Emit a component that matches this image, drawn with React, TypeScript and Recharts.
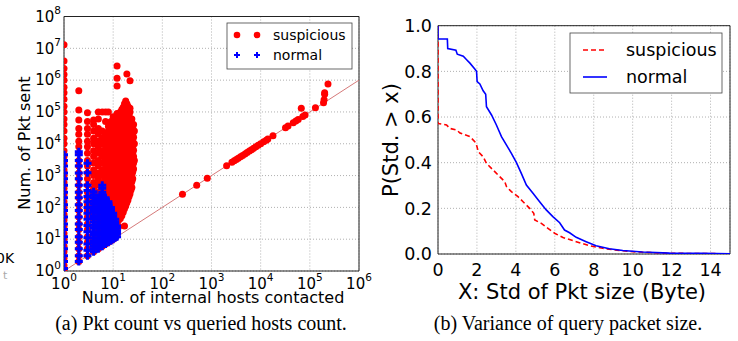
import React from 'react';
import {
  ScatterChart, Scatter, XAxis, YAxis, CartesianGrid, ReferenceLine, ReferenceArea,
  LineChart, Line,
} from 'recharts';

const FONT = '"DejaVu Sans", sans-serif';
const SERIF = '"Liberation Serif", "Times New Roman", serif';

// ---------- (a) Pkt count vs queried hosts count ----------
// [internal hosts contacted, packet counts observed at that host count]
const suspiciousColumns: [number, number[]][] = [
  [1, [1, 1.5, 2.5, 4, 6, 10, 15, 25, 40, 60, 100, 150, 250, 400, 600, 1000, 1500, 2500, 4000, 6000, 10000, 15000, 25000, 40000, 60000, 100000, 150000, 250000, 400000, 600000, 1000000, 1500000, 2300000, 4000000, 13000000]],
  [2, [2, 3, 5, 8, 12, 20, 30, 50, 80, 120, 200, 300, 500, 800, 1200, 2000, 3000, 5000, 8000, 12000, 20000, 30000, 56000, 115000, 460000]],
  [3, [3, 5, 8, 12, 20, 30, 50, 80, 120, 200, 300, 500, 800, 1200, 2000, 3000, 5000, 8000, 12000, 20000, 30000, 50000, 95000]],
  [4, [4, 6, 10, 15, 25, 40, 60, 100, 150, 250, 400, 600, 1000, 1500, 2500, 4000, 6000, 10000, 15000, 25000, 40000, 56000]],
  [5, [5, 8, 12, 20, 30, 50, 80, 120, 200, 300, 500, 800, 1200, 2000, 3000, 5000, 8000, 12000, 20000, 30000, 60000, 100000]],
  [6, [6, 10, 15, 25, 40, 60, 100, 150, 250, 400, 600, 1000, 1500, 2500, 4000, 6000, 10000, 15000, 25000, 100000]],
  [7, [7, 11, 17, 27, 42, 65, 100, 130, 200, 320, 500, 800, 1300, 2000, 3200, 5000, 8000, 13000, 20000, 50000, 100000]],
  [8, [8, 12, 20, 30, 50, 80, 120, 160, 250, 400, 600, 1000, 1600, 2500, 4000, 6000, 10000, 16000, 25000, 35000, 100000]],
  [9, [9, 14, 22, 35, 55, 85, 130, 200, 320, 500, 800, 1300, 2000, 3200, 5000, 8000, 13000, 20000, 32000, 50000]],
  [10, [10, 15, 25, 40, 60, 100, 150, 250, 400, 600, 1000, 1500, 2500, 4000, 6000, 10000, 15000, 25000, 40000, 70000]],
  [11, [11, 17, 27, 42, 65, 100, 160, 250, 400, 630, 1000, 1600, 2500, 4000, 6300, 10000, 16000, 25000, 40000, 63000]],
  [12, [14, 20, 32, 50, 80, 120, 200, 320, 500, 800, 1200, 2000, 3200, 5000, 8000, 12000, 20000, 32000, 50000, 90000, 650000, 1150000, 2800000]],
  [13, [25, 40, 60, 100, 150, 250, 400, 600, 1000, 1500, 2500, 4000, 6000, 10000, 15000, 25000, 40000, 60000, 90000]],
  [14, [45, 70, 110, 170, 270, 420, 650, 1000, 1600, 2500, 4000, 6300, 10000, 16000, 25000, 40000, 63000, 100000]],
  [15, [55, 85, 130, 200, 320, 500, 800, 1300, 2000, 3200, 5000, 8000, 13000, 20000, 32000, 50000, 80000, 120000]],
  [16, [70, 110, 170, 270, 420, 650, 1000, 1600, 2500, 4000, 6300, 10000, 16000, 25000, 40000, 63000, 100000, 140000]],
  [17, [26, 90, 140, 220, 350, 550, 850, 1300, 2000, 3200, 5000, 8000, 13000, 20000, 32000, 50000, 80000, 130000, 180000]],
  [18, [110, 170, 270, 420, 650, 1000, 1600, 2500, 4000, 6300, 10000, 16000, 25000, 40000, 63000, 100000, 160000, 220000]],
  [19, [140, 220, 350, 550, 850, 1300, 2000, 3200, 5000, 8000, 13000, 20000, 32000, 50000, 80000, 130000, 180000, 1550000]],
  [20, [170, 270, 420, 650, 1000, 1600, 2500, 4000, 6300, 10000, 16000, 25000, 40000, 63000, 100000, 150000]],
  [21, [220, 350, 550, 850, 1300, 2000, 3200, 5000, 8000, 13000, 20000, 32000, 50000, 80000, 120000]],
  [22, [270, 420, 650, 1000, 1600, 2500, 4000, 6300, 10000, 16000, 25000, 40000, 63000, 100000, 130000, 950000]],
  [23, [350, 550, 850, 1300, 2000, 3200, 5000, 8000, 13000, 20000, 32000, 50000]],
  [24, [420, 650, 1000, 1600, 2500, 4000, 6300, 10000, 16000, 25000, 40000, 60000]],
  [25, [800, 1300, 2000, 3200, 5000, 8000, 13000, 20000, 32000]],
  [26, [1600, 2500, 4000, 6300, 10000, 16000, 25000, 40000]],
  [27, [3000, 10000, 25000]],
];

// suspicious hosts lying along the y = x diagonal
const suspiciousDiagonal: [number, number][] = [
  [257, 257], [500, 500], [820, 820], [2030, 2030], [2600, 2600], [2900, 2900], [3200, 3200],
  [3500, 3500], [3900, 3900], [4300, 4300], [4800, 4800], [5300, 5300], [5900, 5900], [6500, 6500],
  [7200, 7200], [8000, 8000], [8900, 8900], [10000, 10000], [11500, 11500], [13000, 13000],
  [14000, 14000], [17800, 17800], [32000, 32000], [36000, 36000], [46000, 46000], [52000, 52000],
  [58000, 58000], [67000, 130000], [72000, 72000], [80000, 80000], [130000, 135000],
  [190000, 195000], [195000, 240000], [200000, 360000], [200000, 400000], [234000, 760000],
];

const normalColumns: [number, number[]][] = [
  [1, [1.2, 2, 3, 5, 8, 12, 20, 30, 50, 80, 120, 200, 300, 500, 800, 1200, 2000, 3000, 4500]],
  [2, [2, 3, 5, 8, 12, 20, 30, 50, 80, 120, 200, 300, 500, 800, 1200, 2000, 3000, 4500, 5600]],
  [3, [3, 4.5, 7, 11, 17, 27, 42, 65, 100, 150, 220, 340, 500, 1230, 2450]],
  [4, [4, 5, 6, 7.5, 9, 11, 14, 17, 22, 28, 35, 45, 55, 70, 85, 105, 130, 160, 200, 250, 310]],
  [5, [5, 6, 7.5, 9, 11, 14, 17, 22, 27, 34, 42, 52, 65, 80, 100, 125, 150, 175, 200]],
  [6, [6, 7.5, 9, 11, 14, 17, 22, 28, 35, 44, 55, 70, 85, 105, 130, 160, 200, 250, 300, 400, 500]],
  [7, [7, 8.5, 10, 12.5, 15, 19, 24, 30, 38, 48, 60, 75, 95, 120, 150, 175, 200]],
  [8, [8, 10, 12, 15, 18, 23, 28, 35, 45, 55, 70, 90, 110, 130, 150]],
  [9, [9, 11, 13, 16, 20, 25, 30, 38, 48, 60, 75, 90, 100]],
  [10, [10, 12, 15, 19, 23, 29, 36, 45, 55, 65]],
  [11, [11, 13, 16, 20, 25, 30, 35, 42]],
  [12, [12, 15, 18, 22, 26]],
];

const hostTicks = [1, 10, 100, 1000, 10000, 100000, 1000000];
const pktTicks = [1, 10, 100, 1000, 10000, 100000, 1000000, 10000000, 100000000];

// ---------- (b) Variance of query packet size (CCDF) ----------
const normalStd = [0, 0, 0.48, 0.5, 0.92, 0.99, 1.3, 1.47, 1.64, 1.89, 1.98, 2.01, 2.15, 2.32, 2.45, 2.49, 2.75, 3.0, 3.26, 3.52, 3.77, 4.03, 4.28, 4.54, 4.88, 5.22, 5.56, 5.9, 6.25, 6.5, 6.76, 7.1, 7.61, 8.12, 8.8, 9.49, 10.5, 11.9, 13.6, 15];
const normalProb = [1.0, 0.942, 0.942, 0.9, 0.893, 0.875, 0.866, 0.851, 0.836, 0.81, 0.8, 0.755, 0.745, 0.715, 0.7, 0.645, 0.609, 0.565, 0.514, 0.477, 0.441, 0.4, 0.353, 0.302, 0.266, 0.229, 0.193, 0.164, 0.137, 0.105, 0.093, 0.073, 0.054, 0.036, 0.023, 0.015, 0.009, 0.004, 0.003, 0.001];
const suspStd = [0, 0, 0.44, 0.61, 0.96, 1.13, 1.64, 1.89, 1.98, 2.07, 2.32, 2.49, 2.83, 3.17, 3.43, 3.52, 3.77, 4.11, 4.37, 4.71, 4.92, 4.97, 5.31, 5.65, 5.99, 6.42, 7.1, 7.78, 8.46, 9.32, 10.2, 11.9, 15];
const suspProb = [1.0, 0.572, 0.565, 0.55, 0.543, 0.53, 0.514, 0.492, 0.477, 0.448, 0.426, 0.397, 0.368, 0.339, 0.317, 0.295, 0.273, 0.251, 0.229, 0.2, 0.178, 0.149, 0.134, 0.112, 0.091, 0.072, 0.054, 0.036, 0.025, 0.015, 0.009, 0.003, 0.001];
const stdTicks = [0, 2, 4, 6, 8, 10, 12, 14];
const probTicks = [0, 0.2, 0.4, 0.6, 0.8, 1.0];

// ---------- derived tables ----------
const suspiciousData = [
  ...suspiciousColumns.flatMap(([x, ys]) => ys.map((y) => ({ x, y }))),
  ...suspiciousDiagonal.map(([x, y]) => ({ x, y })),
];
const normalData = normalColumns.flatMap(([x, ys]) => ys.map((y) => ({ x, y })));
const normalLine = normalStd.map((x, i) => ({ x, y: normalProb[i] }));
const suspLine = suspStd.map((x, i) => ({ x, y: suspProb[i] }));

const RED = '#ff0000';
const BLUE = '#0000ff';

const plusPath = (cx: number, cy: number, a = 4, t = 1.5) =>
  `M${cx - a},${cy - t}h${2 * a}v${2 * t}h${-2 * a}z M${cx - t},${cy - a}h${2 * t}v${2 * a}h${-2 * t}z`;

const RedDot = (p: any) => <circle cx={p.cx} cy={p.cy} r={3.5} fill={RED} />;
const BluePlus = (p: any) => <path d={plusPath(p.cx, p.cy)} fill={BLUE} />;

const A_LEFT = 64;
const A_BOTTOM = 271;
const B_LEFT = 438 - 375;
const B_BOTTOM = 254;

const expOf = (v: number) => Math.round(Math.log10(v));

const LogTickX = (props: any) => (
  <text x={props.x} y={A_BOTTOM + 17.5} textAnchor="middle" fontSize={15} fontFamily={FONT} fill="#000">
    10<tspan dy={-7.5} fontSize={10.5}>{expOf(props.payload.value)}</tspan>
  </text>
);
const LogTickY = (props: any) => (
  <text x={A_LEFT - 3} y={props.y + 5.3} textAnchor="end" fontSize={15} fontFamily={FONT} fill="#000">
    10<tspan dy={-7.5} fontSize={10.5}>{expOf(props.payload.value)}</tspan>
  </text>
);
const LinTickX = (props: any) => (
  <text x={props.x} y={B_BOTTOM + 22} textAnchor="middle" fontSize={17.5} fontFamily={FONT} fill="#000">
    {props.payload.value}
  </text>
);
const LinTickY = (props: any) => (
  <text x={B_LEFT - 6} y={props.y + 6.3} textAnchor="end" fontSize={17.5} fontFamily={FONT} fill="#000">
    {Number(props.payload.value).toFixed(1)}
  </text>
);

export default function App() {
  return (
    <div style={{ position: 'absolute', left: 0, top: 0, width: 738, height: 341, background: '#fff', overflow: 'hidden' }}>
      <div style={{ position: 'absolute', left: 0, top: 0 }}>
        <ScatterChart width={375} height={300} margin={{ top: 16.5, right: 16, bottom: 9, left: 20 }}>
          <CartesianGrid stroke="#b0b0b0" strokeDasharray="1 2" />
          <XAxis type="number" dataKey="x" scale="log" domain={[1, 1000000]} ticks={hostTicks}
            allowDataOverflow height={20} axisLine={false} tickLine={false} tick={<LogTickX />} interval={0} />
          <YAxis type="number" dataKey="y" scale="log" domain={[1, 100000000]} ticks={pktTicks}
            allowDataOverflow width={44} axisLine={false} tickLine={false} tick={<LogTickY />} interval={0} />
          <ReferenceLine segment={[{ x: 1, y: 1 }, { x: 1000000, y: 1000000 }]} stroke="#d06a6a" strokeWidth={0.9} ifOverflow="hidden" />
          <Scatter name="suspicious" data={suspiciousData} shape={RedDot} isAnimationActive={false} />
          <Scatter name="normal" data={normalData} shape={BluePlus} isAnimationActive={false} />
          <ReferenceArea x1={1} x2={1000000} y1={1} y2={100000000} fill="none" stroke="#222" strokeWidth={1} ifOverflow="visible" />
        </ScatterChart>
      </div>
      <div style={{ position: 'absolute', left: 375, top: 0 }}>
        <LineChart width={363} height={300} margin={{ top: 25.7, right: 8, bottom: 21, left: 13 }}>
          <CartesianGrid stroke="#b0b0b0" strokeDasharray="1 2" />
          <XAxis type="number" dataKey="x" domain={[0, 15]} ticks={stdTicks} allowDataOverflow
            height={25} axisLine={false} tickLine={false} tick={<LinTickX />} interval={0} />
          <YAxis type="number" domain={[0, 1]} ticks={probTicks} allowDataOverflow
            width={50} axisLine={false} tickLine={false} tick={<LinTickY />} interval={0} />
          <Line data={suspLine} dataKey="y" type="linear" stroke={RED} strokeWidth={1.6} strokeDasharray="5 3" dot={false} isAnimationActive={false} />
          <Line data={normalLine} dataKey="y" type="linear" stroke={BLUE} strokeWidth={1.6} dot={false} isAnimationActive={false} />
          <ReferenceArea x1={0} x2={15} y1={0} y2={1} fill="none" stroke="#222" strokeWidth={1} ifOverflow="visible" />
        </LineChart>
      </div>
      <svg width={738} height={341} style={{ position: 'absolute', left: 0, top: 0, pointerEvents: 'none' }}>
        {/* cut-off remnant of a neighbouring figure */}
        <text x={-4} y={263} fontSize={14} fontFamily={FONT} fill="#000">0K</text>
        <text x={3} y={279} fontSize={11} fontFamily={FONT} fill="#aaa">t</text>

        {/* (a) titles */}
        <text x={24} y={143} transform="rotate(-90 24 143)" textAnchor="middle" dominantBaseline="central"
          fontSize={16} fontFamily={FONT} fill="#000">Num. of Pkt sent</text>
        <text x={213} y={303} textAnchor="middle" fontSize={16} fontFamily={FONT} fill="#000">Num. of internal hosts contacted</text>

        {/* (a) legend */}
        <rect x={227} y={23} width={125} height={46} fill="#fff" stroke="#444" strokeWidth={0.8} />
        <circle cx={237} cy={35} r={3.3} fill={RED} />
        <circle cx={257} cy={35} r={3.3} fill={RED} />
        <text x={273} y={40} fontSize={14} fontFamily={FONT} fill="#000">suspicious</text>
        <path d={plusPath(237, 55, 3, 1)} fill={BLUE} />
        <path d={plusPath(257, 55, 3, 1)} fill={BLUE} />
        <text x={273} y={60} fontSize={14} fontFamily={FONT} fill="#000">normal</text>

        {/* (b) titles */}
        <text x={391} y={140} transform="rotate(-90 391 140)" textAnchor="middle" dominantBaseline="central"
          fontSize={21} fontFamily={FONT} fill="#000">P(Std. &gt; x)</text>
        <text x={582} y={299} textAnchor="middle" fontSize={21} fontFamily={FONT} fill="#000">X: Std of Pkt size (Byte)</text>

        {/* (b) legend */}
        <rect x={570} y={33} width={152} height={60} fill="#fff" stroke="#444" strokeWidth={0.8} />
        <line x1={583} y1={50} x2={607} y2={50} stroke={RED} strokeWidth={1.6} strokeDasharray="5 3" />
        <text x={626} y={56} fontSize={17.5} fontFamily={FONT} fill="#000">suspicious</text>
        <line x1={583} y1={77} x2={607} y2={77} stroke={BLUE} strokeWidth={1.6} />
        <text x={626} y={83} fontSize={17.5} fontFamily={FONT} fill="#000">normal</text>

        {/* captions */}
        <text x={201} y={330} textAnchor="middle" fontSize={20} fontFamily={SERIF} fill="#000">(a) Pkt count vs queried hosts count.</text>
        <text x={568} y={330} textAnchor="middle" fontSize={20} fontFamily={SERIF} fill="#000">(b) Variance of query packet size.</text>
      </svg>
    </div>
  );
}
